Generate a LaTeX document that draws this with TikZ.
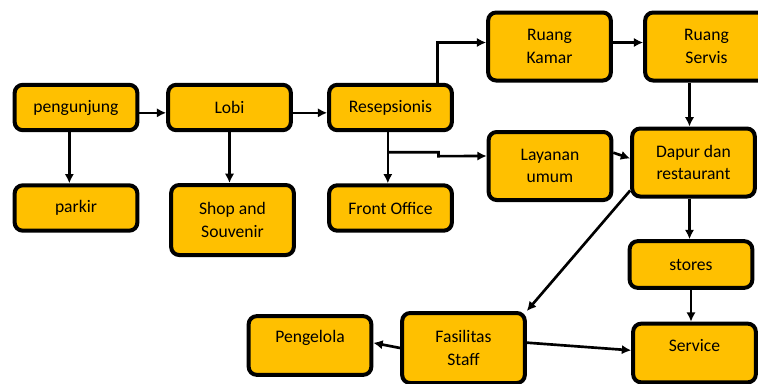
\documentclass[tikz,border=0pt]{standalone}
\usepackage{fontspec}
\setmainfont{Carlito}
\usepackage{tikz}
\definecolor{emas}{HTML}{FFC000}
\usetikzlibrary{calc,arrows.meta}
\tikzset{bloc/.style={
    draw=black,
    fill=emas,
    line width=3pt,
    rounded corners=6pt,
    align=center,
    minimum width=92pt,
    minimum height=34pt,
    font=\fontsize{13.2}{17}\selectfont}}
\tikzset{fleche/.style={
    ->,
    line width=2pt}}

\begin{document}
\begin{tikzpicture}[x=0.75pt, y=-0.75pt, >={Latex[length=7pt,width=7pt]}]
\useasboundingbox (0,0) rectangle (758,383);

\coordinate (PG) at (76,107.5);
\coordinate (PK) at (76,208);
\coordinate (LB) at (229.5,107.5);
\coordinate (SH) at (232.5,220);
\coordinate (RS) at (390.5,107.5);
\coordinate (FO) at (390.5,208);
\coordinate (RK) at (549.5,46.5);
\coordinate (RV) at (706.5,46.5);
\coordinate (LY) at (550,166);
\coordinate (DP) at (693.5,162.5);
\coordinate (ST) at (691,264.5);
\coordinate (SV) at (694.5,353);
\coordinate (FS) at (463.5,348);
\coordinate (PL) at (310,345.5);

\node[bloc] (pengunjung) at (PG) {pengunjung};
\node[bloc] (parkir) at (PK) {parkir};
\node[bloc] (lobi) at (LB) {Lobi};

\node[bloc,
  minimum height=52.5pt] (shop) at (SH) {Shop and\\Souvenir};

\node[bloc] (resepsionis) at (RS) {Resepsionis};
\node[bloc] (front) at (FO) {Front Office};

\node[bloc,
  minimum height=51pt] (kamar) at (RK) {Ruang\\Kamar};

\node[bloc,
  minimum height=51pt] (servis) at (RV) {Ruang\\Servis};

\node[bloc,
  minimum height=51pt] (layanan) at (LY) {Layanan\\umum};

\node[bloc,
  minimum height=51pt] (dapur) at (DP) {Dapur dan\\restaurant};

\node[bloc,
  minimum height=35pt] (stores) at (ST) {stores};

\node[bloc,
  minimum height=44pt,
  text depth=11pt] (service) at (SV) {Service};

\node[bloc,
  minimum height=52.5pt] (fasilitas) at (FS) {Fasilitas\\Staff};

\node[bloc,
  minimum height=44pt,
  text depth=14pt] (pengelola) at (PL) {Pengelola};

\coordinate (cabang) at ($(resepsionis.south)+(-3,20)$);

  \draw[fleche] ([yshift=-4pt]pengunjung.east) -- ([yshift=-4pt]lobi.west);
  \draw[fleche] ([xshift=-5pt]pengunjung.south) -- ([xshift=-5pt]parkir.north);
  \draw[fleche] (lobi.south) -- (lobi.south |- shop.north);
  \draw[fleche] ([yshift=-4pt]lobi.east) -- ([yshift=-4pt]resepsionis.west);
  \draw[fleche] ([xshift=-2pt]resepsionis.south) -- ([xshift=-2pt]resepsionis.south |- front.north);
  \draw[fleche] ([xshift=35pt]resepsionis.north) |- ([yshift=3pt]kamar.west);
  \draw[fleche] (cabang) -- ++(51,0) -- ++(0,4) -- ([yshift=7.5pt]layanan.west);
  \draw[fleche] ([yshift=3pt]kamar.east) -- ([yshift=3pt]servis.west);
  \draw[fleche] ([xshift=-3pt]dapur.north |- servis.south) -- ([xshift=-3pt]dapur.north);
  \draw[fleche] ([yshift=10pt]layanan.east) -- ([yshift=3pt]dapur.west);
  \draw[fleche] ([xshift=-3pt]dapur.south) -- ([xshift=-3pt]dapur.south |- stores.north);
  \draw[fleche] ([yshift=6pt]dapur.south west) -- (fasilitas.north east);
  \draw[fleche] (stores.south) -- (stores.south |- service.north);
  \draw[fleche] (fasilitas.west) -- ([yshift=2pt]pengelola.east);
  \draw[fleche] ([yshift=4pt]fasilitas.east) -- ([yshift=2pt]service.west);
\end{tikzpicture}
\end{document}
